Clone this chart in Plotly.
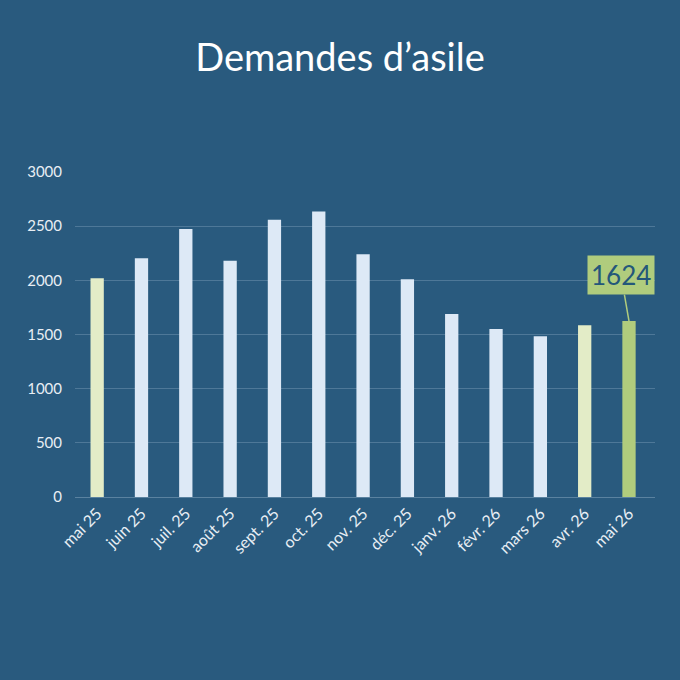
import plotly.graph_objects as go

# Données
mois = ["mai 25", "juin 25", "juil. 25", "août 25", "sept. 25", "oct. 25", "nov. 25",
        "déc. 25", "janv. 26", "févr. 26", "mars 26", "avr. 26", "mai 26"]
demandes = [2020, 2205, 2475, 2180, 2560, 2635, 2240, 2010, 1690, 1550, 1485, 1585, 1624]

BG = "#295a7e"
BLEU_CLAIR = "#dde9f6"
JAUNE_PALE = "#e3ecc7"
VERT = "#b0cc7d"

couleurs = [BLEU_CLAIR] * len(mois)
couleurs[0] = JAUNE_PALE
couleurs[-2] = JAUNE_PALE
couleurs[-1] = VERT

fig = go.Figure(
    go.Bar(
        x=mois,
        y=demandes,
        marker=dict(color=couleurs, line=dict(width=0)),
        width=0.3,
        hoverinfo="x+y",
    )
)

fig.update_layout(
    width=680,
    height=680,
    paper_bgcolor=BG,
    plot_bgcolor=BG,
    margin=dict(l=75, r=25, t=172, b=183),
    showlegend=False,
    title=dict(
        text="Demandes d’asile",
        x=0.5,
        xanchor="center",
        y=0.915,
        yanchor="middle",
        font=dict(family="Lato", size=38, color="white"),
    ),
    font=dict(family="Lato", color="#e8eef4", size=15),
    xaxis=dict(
        tickangle=-45,
        showgrid=False,
        showline=True,
        linecolor="#5a82a0",
        linewidth=1,
        ticks="",
        tickfont=dict(size=16),
    ),
    yaxis=dict(
        range=[0, 3000],
        dtick=500,
        showgrid=True,
        gridcolor="#4e7898",
        gridwidth=1,
        zeroline=False,
        ticks="",
        ticklabelstandoff=12,
        tickfont=dict(size=15),
    ),
    annotations=[
        dict(
            x=mois[-1],
            y=demandes[-1],
            text="1624",
            showarrow=True,
            arrowhead=0,
            arrowwidth=1.5,
            arrowcolor=VERT,
            ax=-8,
            ay=-46,
            bgcolor=VERT,
            borderpad=3,
            font=dict(family="Lato", size=26, color="#24577a"),
        )
    ],
)

fig.write_html(
    "out.html",
    config={"displayModeBar": False},
    post_script="document.body.style.margin='0';",
)
